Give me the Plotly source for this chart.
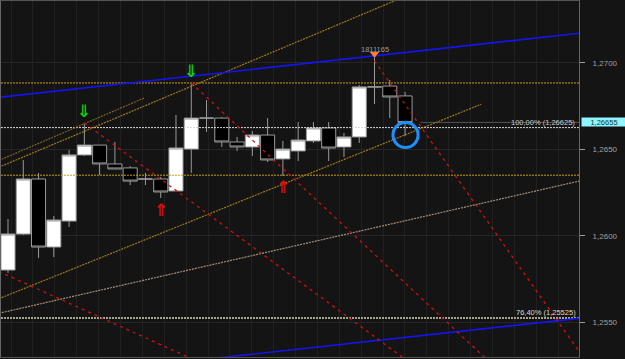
import plotly.graph_objects as go

# ---------------- data ----------------
idx = list(range(27))
opens  = [1.25802, 1.26010, 1.26328, 1.25935, 1.26085, 1.26467, 1.26524, 1.26415, 1.26392,
          1.26328, 1.26328, 1.26259, 1.26501, 1.26680, 1.26680, 1.26542, 1.26513, 1.26582,
          1.26444, 1.26490, 1.26548, 1.26623, 1.26513, 1.26571, 1.26860, 1.26865, 1.26808]
highs  = [1.26097, 1.26438, 1.26363, 1.26114, 1.26496, 1.26652, 1.26524, 1.26542, 1.26403,
          1.26363, 1.26340, 1.26698, 1.26883, 1.26784, 1.26686, 1.26571, 1.26605, 1.26680,
          1.26548, 1.26657, 1.26657, 1.26657, 1.26594, 1.26871, 1.27027, 1.26900, 1.26831]
lows   = [1.25785, 1.26004, 1.25872, 1.25877, 1.26051, 1.26461, 1.26351, 1.26386, 1.26293,
          1.26293, 1.26218, 1.26259, 1.26363, 1.26600, 1.26513, 1.26490, 1.26461, 1.26426,
          1.26345, 1.26432, 1.26536, 1.26432, 1.26455, 1.26536, 1.26761, 1.26680, 1.26576]
closes = [1.26010, 1.26328, 1.25935, 1.26091, 1.26467, 1.26524, 1.26415, 1.26386, 1.26316,
          1.26328, 1.26253, 1.26507, 1.26680, 1.26680, 1.26542, 1.26513, 1.26582, 1.26438,
          1.26501, 1.26553, 1.26623, 1.26507, 1.26571, 1.26860, 1.26860, 1.26802, 1.26655]

y_tickvals = [1.2550, 1.2600, 1.2650, 1.2700]
y_ticktext = ["1,2550", "1,2600", "1,2650", "1,2700"]

# horizontal levels
level_fib100 = 1.26625
level_fib764 = 1.25525
level_gold_hi = 1.26883
level_gold_lo = 1.26350
last_price = 1.26655
fib_labels = ["100,00% (1,26625)", "76,40% (1,25525)"]
last_price_label = "1,26655"
high_label = "1811165"

# trend lines: (bar index, price) endpoints
trend_blue_upper = [(-0.6, 1.26800), (37.5, 1.27171)]
trend_blue_lower = [(12.57, 1.25283), (37.5, 1.25524)]
trend_gold_a = [(-0.6, 1.26435), (8.97, 1.26798)]
trend_gold_b = [(-0.6, 1.26396), (25.6, 1.27368)]
trend_gold_c = [(-0.6, 1.25636), (30.98, 1.26760)]
trend_beige = [(-0.6, 1.25552), (37.5, 1.26318)]
trend_red_1 = [(5.0, 1.26652), (25.95, 1.25290)]
trend_red_2 = [(-0.6, 1.25794), (11.9, 1.25295)]
trend_red_3 = [(12.0, 1.26883), (31.3, 1.25290)]
trend_red_4 = [(24.0, 1.27010), (37.5, 1.25318)]

down_arrows = [(5, 1.26722), (12, 1.26950)]
up_arrows = [(10, 1.26150), (18, 1.26284)]

# ---------------- figure ----------------
BG = "#141414"
fig = go.Figure()

def add_line(pts, color, width, dash):
    fig.add_trace(go.Scatter(x=[p[0] for p in pts], y=[p[1] for p in pts], mode="lines",
                             line=dict(color=color, width=width, dash=dash),
                             hoverinfo="skip", showlegend=False))

XMIN, XMAX = -0.458, 37.39
add_line([(XMIN, level_gold_hi), (XMAX, level_gold_hi)], "#c99a16", 1, "2px,1px")
add_line([(XMIN, level_gold_lo), (XMAX, level_gold_lo)], "#c99a16", 1, "2px,1px")
add_line([(XMIN, level_fib100), (XMAX, level_fib100)], "#d8d8d8", 1, "2px,1px")
add_line([(XMIN, level_fib764), (XMAX, level_fib764)], "#a4a48c", 2, "2px,1px")
add_line([(27, last_price), (XMAX, last_price)], "#555555", 1, "solid")

add_line(trend_gold_a, "#7e6226", 1.2, "2px,1px")
add_line(trend_gold_b, "#a07a1e", 1.2, "2px,1px")
add_line(trend_gold_c, "#a07a1a", 1.2, "2px,1px")
add_line(trend_beige, "#a89078", 1.2, "2px,1px")
add_line(trend_blue_upper, "#1414ee", 1.6, "solid")
add_line(trend_blue_lower, "#1414ee", 1.6, "solid")
for t in (trend_red_1, trend_red_2, trend_red_3, trend_red_4):
    add_line(t, "#d01010", 1.3, "3px,4px")

fig.add_trace(go.Candlestick(
    x=idx, open=opens, high=highs, low=lows, close=closes,
    increasing=dict(line=dict(color="#9a9a9a", width=1), fillcolor="#ffffff"),
    decreasing=dict(line=dict(color="#9a9a9a", width=1), fillcolor="#000000"),
    whiskerwidth=0, showlegend=False, hoverinfo="skip"))

# high marker
fig.add_trace(go.Scatter(x=[24], y=[1.27050], mode="markers",
                         marker=dict(symbol="triangle-down", size=8, color="#ff7f2a"),
                         hoverinfo="skip", showlegend=False))

annotations = []
for (xi, yv) in down_arrows:
    annotations.append(dict(x=xi, y=yv, text="<b>⇓</b>", showarrow=False,
                            font=dict(color="#12d012", size=17, family="DejaVu Sans")))
for (xi, yv) in up_arrows:
    annotations.append(dict(x=xi, y=yv, text="<b>⇑</b>", showarrow=False,
                            font=dict(color="#d81010", size=17, family="DejaVu Sans")))
annotations.append(dict(x=0.995, xref="paper", y=level_fib100, yanchor="bottom", xanchor="right",
                        text=fib_labels[0], showarrow=False, borderpad=0,
                        font=dict(color="#c8c8c8", size=7.5, family="Liberation Sans")))
annotations.append(dict(x=0.996, xref="paper", y=level_fib764, yanchor="bottom", xanchor="right",
                        text=fib_labels[1], showarrow=False, borderpad=0,
                        font=dict(color="#dcdcc0", size=7.5, family="Liberation Sans")))
annotations.append(dict(x=24, y=1.27079, text=high_label, showarrow=False,
                        font=dict(color="#9a9a9a", size=7.5, family="Liberation Sans")))
annotations.append(dict(x=1, xref="paper", xanchor="left", xshift=2, y=last_price,
                        text=last_price_label, showarrow=False, bgcolor="#8ff5ff",
                        borderpad=0, width=44, height=8,
                        font=dict(color="#103838", size=7.5, family="Liberation Sans")))

shapes = [dict(type="circle", xref="x", yref="y", x0=25.21, x1=26.85, y0=1.26510, y1=1.266545,
               line=dict(color="#1e8fff", width=3))]

fig.update_layout(
    width=625, height=359,
    margin=dict(l=1, r=46, t=1, b=2),
    paper_bgcolor=BG, plot_bgcolor=BG,
    boxgap=0.08, boxgroupgap=0,
    showlegend=False,
    annotations=annotations, shapes=shapes,
    xaxis=dict(range=[XMIN, XMAX], showticklabels=False, ticks="", rangeslider=dict(visible=False),
               showgrid=True, gridcolor="#202020", tick0=0.203, dtick=1.4326, zeroline=False,
               showline=True, mirror=True, linecolor="#555555", linewidth=1, fixedrange=True),
    yaxis=dict(range=[1.252995, 1.273565], side="right", tickvals=y_tickvals, ticktext=y_ticktext,
               ticks="outside", ticklen=5, tickcolor="#9a9a9a", ticklabelstandoff=6,
               tickfont=dict(color="#a0a0a0", size=8, family="Liberation Sans"),
               showgrid=True, gridcolor="#262626", zeroline=False,
               showline=True, mirror=True, linecolor="#666666", linewidth=1, fixedrange=True),
)

fig.write_html("out.html")
